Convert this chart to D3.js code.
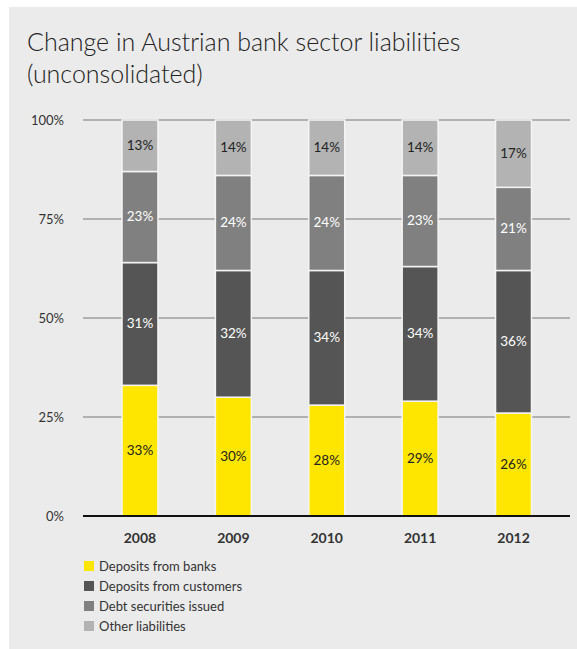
<!DOCTYPE html>
<html><head><meta charset="utf-8">
<script src="https://cdn.jsdelivr.net/npm/d3@7"></script>
<style>
html,body{margin:0;padding:0;background:#fff;}
svg{display:block;font-family:"Lato","Open Sans",sans-serif;}
</style></head>
<body>
<svg id="chart" width="577" height="649"></svg>
<script>
const years = ["2008","2009","2010","2011","2012"];
const seriesNames = ["Deposits from banks","Deposits from customers","Debt securities issued","Other liabilities"];
const depositsBanks = [33,30,28,29,26];
const depositsCustomers = [31,32,34,34,36];
const debtSecurities = [23,24,24,23,21];
const otherLiabilities = [13,14,14,14,17];
const tickValues = [0,25,50,75,100];
const tickLabels = ["0%","25%","50%","75%","100%"];
const colors = ["#ffe600","#555555","#808080","#b3b3b3"];
const labelColors = ["#222","#fff","#fff","#222"];

const svg = d3.select("#chart");
svg.append("rect").attr("x",9).attr("y",7).attr("width",568).attr("height",642).attr("fill","#ebebeb");

svg.append("text").attr("x",27).attr("y",51).attr("font-size",25).attr("fill","#222").attr("font-weight",300)
  .text("Change in Austrian bank sector liabilities");
svg.append("text").attr("x",27).attr("y",83).attr("font-size",25).attr("fill","#222").attr("font-weight",300)
  .text("(unconsolidated)");

const y = d3.scaleLinear().domain([0,100]).range([516,120]);
const x = d3.scaleBand().domain(years).range([93.3,560.2]).paddingInner(0.615).paddingOuter(0.3075);

const grid = svg.append("g");
tickValues.forEach((t,i)=>{
  grid.append("line").attr("x1",83).attr("x2",570).attr("y1",y(t)).attr("y2",y(t))
    .attr("stroke", t===0 ? "#111" : "#777").attr("stroke-width", t===0 ? 2 : 1);
  grid.append("text").attr("x",64).attr("y",y(t)+4.5).attr("text-anchor","end")
    .attr("font-size",13).attr("fill","#333").text(tickLabels[i]);
});

const data = years.map((yr,i)=>{
  const o={year:yr};
  [depositsBanks,depositsCustomers,debtSecurities,otherLiabilities].forEach((arr,k)=>o[seriesNames[k]]=arr[i]);
  return o;
});
const stack = d3.stack().keys(seriesNames)(data);

const g = svg.append("g");
stack.forEach((layer,k)=>{
  layer.forEach(d=>{
    const yr = d.data.year;
    g.append("rect").attr("x",x(yr)).attr("width",x.bandwidth())
      .attr("y",y(d[1])).attr("height",y(d[0])-y(d[1]))
      .attr("fill",colors[k]).attr("stroke","#f4f4f4").attr("stroke-width",1.5);
    g.append("text").attr("x",x(yr)+x.bandwidth()/2).attr("y",(y(d[0])+y(d[1]))/2+4)
      .attr("text-anchor","middle").attr("font-size",13.5).attr("fill",labelColors[k])
      .text((d[1]-d[0])+"%");
  });
});
svg.append("line").attr("x1",83).attr("x2",570).attr("y1",y(0)).attr("y2",y(0)).attr("stroke","#111").attr("stroke-width",2);

years.forEach(yr=>{
  svg.append("text").attr("x",x(yr)+x.bandwidth()/2).attr("y",543).attr("text-anchor","middle")
    .attr("font-size",14).attr("font-weight",700).attr("fill","#333").text(yr);
});

const leg = svg.append("g");
seriesNames.forEach((s,k)=>{
  const yy = 567 + k*20;
  leg.append("rect").attr("x",84).attr("y",yy-6).attr("width",10).attr("height",10).attr("fill",colors[k]);
  leg.append("text").attr("x",99).attr("y",yy+4).attr("font-size",13).attr("fill","#333").text(s);
});
</script>
</body></html>
